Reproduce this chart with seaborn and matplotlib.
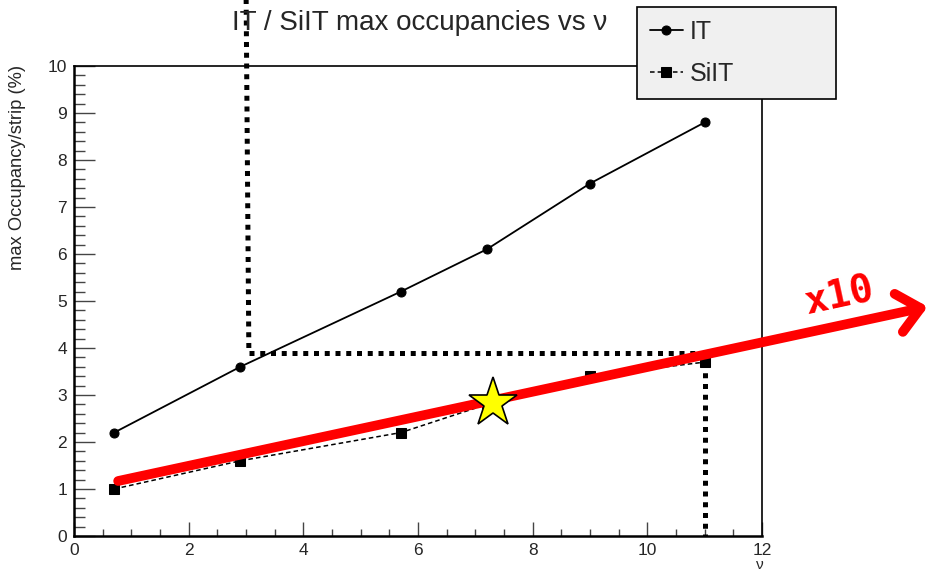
import numpy as np
import matplotlib
matplotlib.use("Agg")
import matplotlib.pyplot as plt
from matplotlib.ticker import MultipleLocator
import seaborn as sns

# pile-up parameter nu and the max occupancies (%) per strip
nu = [0.7, 2.9, 5.7, 7.2, 9.0, 11.0]
it_occ = [2.2, 3.6, 5.2, 6.1, 7.5, 8.8]
siit_occ = [1.0, 1.6, 2.2, 2.8, 3.4, 3.7]

# operating point and the x10 extrapolation
star_point = (7.3, 2.84)
trend_start = (0.77, 1.17)
trend_tip = (14.89, 4.88)
trend_label = "x10"
label_pos = (13.35, 5.10)

# dotted guide lines (x, y)
guide_left = ([3.0, 3.05], [11.8, 3.9])
guide_mid = ([3.05, 10.87], [3.9, 3.9])
guide_right = ([11.0, 11.0], [3.7, 0.0])

sns.set_style("white")
plt.rcParams["font.family"] = ["Liberation Sans", "DejaVu Sans"]

fig = plt.figure(figsize=(9.31, 5.72), dpi=100)
ax = fig.add_axes([74 / 931, 36 / 572, 688 / 931, 470 / 572])
ax.set_xlim(0, 12)
ax.set_ylim(0, 10)

sns.lineplot(x=nu, y=it_occ, ax=ax, color="black", lw=1.3, marker="o",
             markersize=6.5, markeredgecolor="black", label="IT", zorder=4)
sns.lineplot(x=nu, y=siit_occ, ax=ax, color="black", lw=1.1, marker="s",
             markersize=7, markeredgecolor="black", label="SiIT", zorder=3,
             linestyle=(0, (3, 2)))
if ax.get_legend() is not None:
    ax.get_legend().remove()

dot = dict(color="black", lw=3.6, linestyle=(0, (1.0, 1.15)),
           dash_capstyle="butt", clip_on=False, zorder=3)
ax.plot(*guide_left, **dot)
ax.plot(*guide_mid, **dot)
ax.plot(*guide_right, **dot)

ax.annotate("", xy=trend_tip, xytext=trend_start, annotation_clip=False,
            arrowprops=dict(arrowstyle="->,head_length=1.6,head_width=1.4",
                            mutation_scale=10, lw=7, color="#ff0000",
                            shrinkA=0, shrinkB=0),
            zorder=5)

p0 = ax.transData.transform(trend_start)
p1 = ax.transData.transform(trend_tip)
angle = np.degrees(np.arctan2(p1[1] - p0[1], p1[0] - p0[0]))
ax.text(*label_pos, trend_label, color="#ff0000", fontsize=28,
        fontweight="bold", family="DejaVu Sans Mono", rotation=angle,
        rotation_mode="anchor", ha="center", va="center", clip_on=False,
        zorder=6)

ax.plot(*star_point, marker="*", markersize=37, markerfacecolor="#ffff00",
        markeredgecolor="black", markeredgewidth=1.2, zorder=7)

# axis frame and ticks
for side in ["left", "bottom"]:
    ax.spines[side].set_color("black")
    ax.spines[side].set_linewidth(1.8)
for side in ["top", "right"]:
    ax.spines[side].set_color("black")
    ax.spines[side].set_linewidth(1.2)
ax.xaxis.set_major_locator(MultipleLocator(2))
ax.xaxis.set_minor_locator(MultipleLocator(0.5))
ax.yaxis.set_major_locator(MultipleLocator(1))
ax.yaxis.set_minor_locator(MultipleLocator(0.2))
ax.tick_params(axis="x", which="major", direction="in", length=10, width=1,
               color="#444444", labelsize=12.5, pad=5, bottom=True, top=False)
ax.tick_params(axis="x", which="minor", direction="in", length=5, width=1,
               color="#444444", bottom=True, top=False)
ax.tick_params(axis="y", which="major", direction="in", length=15, width=1,
               color="#444444", labelsize=12.5, pad=5, left=True, right=False)
ax.tick_params(axis="y", which="minor", direction="in", length=8, width=1,
               color="#444444", left=True, right=False)

ax.set_xlabel("ν", fontsize=11, loc="right")
ax.xaxis.set_label_coords(1.003, -0.046)
ax.set_ylabel("max Occupancy/strip (%)", fontsize=13.2, loc="top")
ax.yaxis.set_label_coords(-0.0698, 1.002)

fig.text(420 / 931, 1 - 23 / 572, "IT / SiIT max occupancies vs ν",
         fontsize=20, ha="center", va="center")

handles, labels = ax.get_legend_handles_labels()
leg = fig.legend(handles, labels, loc="upper left",
                 bbox_to_anchor=(637 / 931, 1 - 96 / 572, 199 / 931, 89 / 572),
                 mode="expand", borderaxespad=0, fontsize=18, frameon=True,
                 fancybox=False, facecolor="#f0f0f0", edgecolor="black",
                 framealpha=1, handlelength=1.3, handletextpad=0.3,
                 borderpad=0.52, labelspacing=0.72)
leg.get_frame().set_linewidth(1.2)
leg.set_zorder(10)

fig.savefig("out.png", dpi=100)
